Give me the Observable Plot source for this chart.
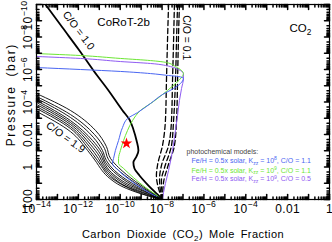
<!DOCTYPE html>
<html><head><meta charset="utf-8">
<script src="https://cdn.jsdelivr.net/npm/d3@7"></script>
<script src="https://cdn.jsdelivr.net/npm/@observablehq/plot@0.6"></script>
<style>body{margin:0;background:#fff}</style>
</head><body><div id="chart"></div>
<script>
// values stored as [log10(CO2 mole fraction), log10(pressure / bar)]
const coRatio10 = [[-13.57,-10.00],[-12.76,-8.58],[-11.95,-7.17],[-11.28,-5.94],[-10.56,-4.71],[-9.89,-3.48],[-9.56,-2.92],[-9.37,-2.31],[-9.22,-1.63],[-9.13,-1.02],[-9.22,-0.65],[-9.37,-0.28],[-9.32,0.09],[-9.08,0.52],[-8.65,1.14],[-8.22,1.69],[-7.98,2.00]];
const co11 = [[-14,-4.52],[-12.38,-3.48],[-11.18,-2.25],[-10.66,-1.26],[-10.46,-0.52],[-10.08,0.03],[-9.27,0.89],[-8.55,1.51],[-7.98,2.0]];
const co12 = [[-14,-4.34],[-12.38,-3.23],[-11.23,-2.00],[-10.75,-1.14],[-10.56,-0.46],[-10.18,0.09],[-9.32,0.95],[-8.55,1.57],[-7.98,2.0]];
const co13 = [[-14,-4.22],[-12.38,-3.05],[-11.28,-1.82],[-10.85,-1.02],[-10.66,-0.40],[-10.27,0.22],[-9.41,1.02],[-8.60,1.57],[-7.98,2.0]];
const co14 = [[-14,-4.09],[-12.38,-2.86],[-11.32,-1.63],[-10.89,-0.89],[-10.70,-0.28],[-10.32,0.28],[-9.46,1.08],[-8.60,1.63],[-7.98,2.0]];
const co15 = [[-14,-3.97],[-12.38,-2.74],[-11.37,-1.51],[-10.94,-0.77],[-10.75,-0.22],[-10.42,0.34],[-9.51,1.14],[-8.65,1.63],[-7.98,2.0]];
const co16 = [[-14,-3.85],[-12.38,-2.62],[-11.42,-1.38],[-10.99,-0.65],[-10.80,-0.15],[-10.46,0.40],[-9.56,1.20],[-8.65,1.69],[-7.98,2.0]];
const co17 = [[-14,-3.72],[-12.38,-2.49],[-11.47,-1.26],[-11.04,-0.52],[-10.85,-0.09],[-10.51,0.46],[-9.60,1.26],[-8.70,1.69],[-7.98,2.0]];
const co18 = [[-14,-3.60],[-12.38,-2.37],[-11.52,-1.14],[-11.09,-0.40],[-10.89,-0.03],[-10.56,0.52],[-9.65,1.26],[-8.70,1.75],[-7.98,2.0]];
const co19 = [[-14,-3.42],[-12.38,-2.18],[-11.56,-1.02],[-11.13,-0.28],[-10.94,0.09],[-10.61,0.58],[-9.70,1.32],[-8.74,1.75],[-7.98,2.0]];
const lowCoA = [[-7.69,-10],[-7.74,-7.78],[-7.79,-5.32],[-7.84,-2.86],[-7.98,-1.32],[-8.22,-0.09],[-8.27,0.52],[-8.17,1.32],[-7.98,2.0]];
const lowCoB = [[-7.41,-10],[-7.45,-7.78],[-7.50,-5.32],[-7.55,-2.86],[-7.69,-1.32],[-8.03,-0.09],[-8.12,0.71],[-8.08,1.45],[-7.98,2.0]];
const lowCoC = [[-7.26,-10],[-7.31,-7.78],[-7.36,-5.32],[-7.45,-2.86],[-7.55,-1.32],[-7.88,0.03],[-8.03,0.83],[-7.98,2.0]];
const lowCoD = [[-7.17,-10],[-7.22,-7.78],[-7.26,-5.32],[-7.31,-2.86],[-7.41,-1.32],[-7.74,0.03],[-7.93,0.95],[-7.98,2.0]];
const photoBlue = [[-14,-6.12],[-11.90,-6.00],[-9.99,-5.88],[-8.55,-5.75],[-7.69,-5.63],[-7.22,-5.57],[-6.98,-5.45],[-7.12,-5.14],[-7.45,-4.83],[-7.98,-4.46],[-8.55,-3.91],[-9.17,-3.35],[-9.65,-2.98],[-9.89,-2.43],[-10.08,-1.63],[-10.23,-1.02],[-10.32,-0.52],[-10.37,-0.22],[-10.08,0.22],[-9.51,0.83],[-8.79,1.45],[-7.98,2.0]];
const photoGreen = [[-14,-6.98],[-11.90,-6.86],[-9.99,-6.68],[-8.55,-6.55],[-7.79,-6.43],[-7.36,-6.18],[-7.07,-5.94],[-6.98,-5.75],[-7.07,-5.51],[-7.31,-5.20],[-7.74,-4.71],[-8.41,-4.03],[-9.03,-3.48],[-9.41,-2.86],[-9.65,-2.25],[-9.84,-1.63],[-9.99,-1.02],[-10.08,-0.52],[-10.08,-0.22],[-9.84,0.09],[-9.37,0.65],[-8.79,1.26],[-8.31,1.69],[-7.98,2.0]];
const photoPurple = [[-14,-6.80],[-11.90,-6.68],[-9.99,-6.49],[-8.55,-6.37],[-7.60,-6.18],[-7.22,-6.00],[-6.98,-5.75],[-6.98,-5.45],[-7.07,-4.83],[-7.17,-4.09],[-7.26,-3.17],[-7.36,-2.25],[-7.50,-1.02],[-7.69,0.22],[-7.84,1.02],[-7.93,1.57],[-7.98,2.0]];
const starPoint = [[-9.70,-1.45]];

const xTickValues = [1e-14,1e-12,1e-10,1e-8,1e-6,1e-4,1e-2,1];
const xTickLabels = ["10^{−14}","10^{−12}","10^{−10}","10^{−8}","10^{−6}","10^{−4}","0.01","1"];
const yTickValues = [100,1,1e-2,1e-4,1e-6,1e-8];
const yTickLabels = ["100","1","0.01","10^{−4}","10^{−6}","10^{−8}"];
const yTopTickValue = [1e-10];
const yTopTickLabel = "10^{−10}";
const legendTitle = "photochemical models:";
const legendLabels = ["Fe/H = 0.5x solar, K_{zz} = 10^{8}, C/O = 1.1","Fe/H = 0.5x solar, K_{zz} = 10^{9}, C/O = 1.1","Fe/H = 0.5x solar, K_{zz} = 10^{9}, C/O = 0.5"];
const legendColors = ["#4a66f2","#6ce634","#8f5cf2"];

const rows = (pts, key) => pts.map(([lx, lp]) => ({x: 10 ** lx, p: 10 ** lp, key}));
const bundle = [co11,co12,co13,co14,co15,co16,co17,co18,co19].flatMap((a,i) => rows(a, "b"+i));
const dashed = [lowCoA,lowCoB,lowCoC,lowCoD].flatMap((a,i) => rows(a, "d"+i));

const xMajor = [], xMinor = [], yMajor = [], yMinor = [];
for (let e = -14; e <= 0; e++) { xMajor.push(10 ** e); if (e < 0) for (let m = 2; m <= 9; m++) xMinor.push(m * 10 ** e); }
for (let e = -10; e <= 2; e++) { yMajor.push(10 ** e); if (e < 2) for (let m = 2; m <= 9; m++) yMinor.push(m * 10 ** e); }
const tickShape = {draw(c, l) { c.moveTo(0, 0); c.lineTo(0, -l); }};
const ticks = (xs, ys, len) => [
  Plot.vector(xs, {x: d => d, frameAnchor: "bottom", rotate: 0, length: len, anchor: "start", shape: tickShape, stroke: "black"}),
  Plot.vector(xs, {x: d => d, frameAnchor: "top", rotate: 180, length: len, anchor: "start", shape: tickShape, stroke: "black"}),
  Plot.vector(ys, {y: d => d, frameAnchor: "left", rotate: 90, length: len, anchor: "start", shape: tickShape, stroke: "black"}),
  Plot.vector(ys, {y: d => d, frameAnchor: "right", rotate: -90, length: len, anchor: "start", shape: tickShape, stroke: "black"})
];

const chart = Plot.plot({
  width: 332, height: 242,
  marginLeft: 36, marginRight: 3, marginTop: 4, marginBottom: 43,
  style: {fontFamily: "'Liberation Sans', Arial, Helvetica, sans-serif", background: "#fff"},
  x: {type: "log", domain: [1e-14, 1], axis: null},
  y: {type: "log", domain: [100, 1e-10], axis: null},
  marks: [
    Plot.line(bundle, {x: "x", y: "p", z: "key", stroke: "black", strokeWidth: 0.9, curve: "monotone-y", clip: true}),
    Plot.line(rows(coRatio10), {x: "x", y: "p", stroke: "black", strokeWidth: 1.8, curve: "monotone-y", clip: true}),
    Plot.line(dashed, {x: "x", y: "p", z: "key", stroke: "black", strokeWidth: 1.3, strokeDasharray: "5,3", curve: "monotone-y", clip: true}),
    Plot.line(rows(photoPurple), {x: "x", y: "p", stroke: legendColors[2], strokeWidth: 1, curve: "monotone-y", clip: true}),
    Plot.line(rows(photoGreen), {x: "x", y: "p", stroke: legendColors[1], strokeWidth: 1, curve: "monotone-y", clip: true}),
    Plot.line(rows(photoBlue), {x: "x", y: "p", stroke: legendColors[0], strokeWidth: 1, curve: "monotone-y", clip: true}),
    Plot.dot(rows(starPoint), {x: "x", y: "p", symbol: "star", r: 3.6, fill: "red", stroke: "none"}),
    Plot.text(["C/O = 1.0"], {x: 10 ** -11.99, y: 10 ** -8.4, text: d => d, rotate: 53, fontSize: 10.5}),
    Plot.text(["C/O = 1.9"], {x: 10 ** -12.61, y: 10 ** -1.82, text: d => d, rotate: 36, fontSize: 10.5}),
    Plot.text(["C/O = 0.1"], {x: 10 ** -6.83, y: 10 ** -7.95, text: d => d, rotate: 90, fontSize: 10.5}),
    Plot.text(["CoRoT-2b"], {x: 10 ** -9.84, y: 10 ** -8.89, text: d => d, fontSize: 11.5}),
    Plot.text(["CO_{2}"], {x: 10 ** -1.39, y: 10 ** -8.52, text: d => d, fontSize: 11.5}),
    Plot.text([legendTitle], {x: 10 ** -6.83, y: 10 ** -0.95, text: d => d, textAnchor: "start", fontSize: 7, fill: "#444"}),
    Plot.text(legendLabels, {x: 10 ** -6.59, y: (d, i) => 10 ** [-0.36, 0.2, 0.75][i], text: d => d, textAnchor: "start", fontSize: 7, fill: (d, i) => legendColors[i]}),
    Plot.frame({stroke: "black", strokeWidth: 1.2}),
    ...ticks(xMajor, yMajor, 5), ...ticks(xMinor, yMinor, 2.5),
    Plot.text(xTickValues, {x: d => d, frameAnchor: "bottom", dy: 4.5, lineAnchor: "top", textAnchor: "middle", text: (d, i) => xTickLabels[i], fontSize: 12}),
    Plot.text(yTickValues, {y: d => d, frameAnchor: "left", dx: -4.5, rotate: -90, textAnchor: "middle", lineAnchor: "bottom", text: (d, i) => yTickLabels[i], fontSize: 12}),
    Plot.text(yTopTickValue, {y: d => d, frameAnchor: "left", dx: -4.5, dy: 11, rotate: -90, textAnchor: "middle", lineAnchor: "bottom", text: () => yTopTickLabel, fontSize: 12}),
    Plot.text(["Carbon Dioxide (CO_{2}) Mole Fraction"], {frameAnchor: "bottom", dy: 31, lineAnchor: "top", textAnchor: "middle", text: d => d, fontSize: 11}),
    Plot.text(["Pressure (bar)"], {y: [10 ** -4.45], frameAnchor: "left", dx: -22, rotate: -90, textAnchor: "middle", lineAnchor: "bottom", text: d => d, fontSize: 12})
  ]
});
document.getElementById("chart").append(chart);

// rich text: ^{...} superscript, _{...} subscript
const ns = "http://www.w3.org/2000/svg";
d3.select(chart).selectAll("text").each(function() {
  const el = this, s = el.textContent;
  if (s.startsWith("Pressure")) { el.style.letterSpacing = "1.6px"; el.style.wordSpacing = "4px"; }
  if (s.startsWith("Carbon")) { el.style.letterSpacing = "0.45px"; el.style.wordSpacing = "2.5px"; }
  if (/^(10\^|0\.01$|1$|100$)/.test(s)) el.style.letterSpacing = "0.4px";
  if (!/[\^_]\{/.test(s)) return;
  let p = el, fs = 11;
  while (p && p.getAttribute) { const a = p.getAttribute("font-size"); if (a) { fs = parseFloat(a); break; } p = p.parentNode; }
  while (el.firstChild) el.removeChild(el.firstChild);
  let cur = 0;
  const add = (txt, off, size) => {
    if (!txt) return;
    const t = document.createElementNS(ns, "tspan");
    const d = off - cur; if (d) t.setAttribute("dy", d);
    if (size) t.setAttribute("font-size", size);
    t.textContent = txt; el.appendChild(t); cur = off;
  };
  const re = /([\^_])\{([^}]*)\}/g; let last = 0, m;
  while ((m = re.exec(s))) {
    add(s.slice(last, m.index), 0);
    if (m[1] === "^") add(m[2], -0.42 * fs, 0.72 * fs); else add(m[2], 0.28 * fs, 0.72 * fs);
    last = re.lastIndex;
  }
  add(s.slice(last), 0);
});
</script></body></html>
